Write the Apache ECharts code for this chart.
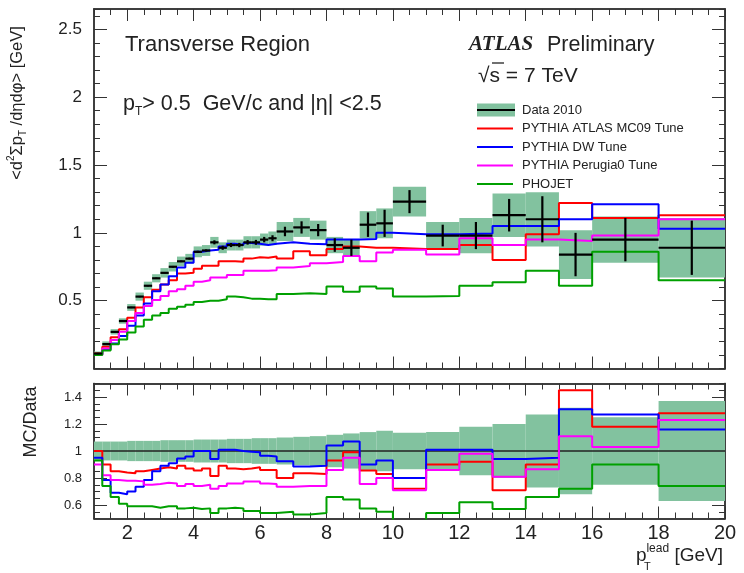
<!DOCTYPE html>
<html><head><meta charset="utf-8">
<script src="https://cdn.jsdelivr.net/npm/echarts@6/dist/echarts.min.js"></script>
<style>html,body{margin:0;padding:0;background:#fff}#c{width:744px;height:573px}</style>
</head><body><div id="c"></div>
<script>
// ---- data ----
const binEdges = [1,1.25,1.5,1.75,2,2.25,2.5,2.75,3,3.25,3.5,3.75,4,4.25,4.5,4.75,5,5.25,5.5,5.75,6,6.25,6.5,7,7.5,8,8.5,9,9.5,10,11,12,13,14,15,16,18,20];
const dataVal = [0.11,0.18,0.27,0.35,0.45,0.53,0.61,0.665,0.705,0.75,0.79,0.81,0.86,0.87,0.93,0.89,0.91,0.91,0.93,0.93,0.95,0.96,1.01,1.04,1.02,0.91,0.89,1.06,1.07,1.23,0.98,0.98,1.13,1.10,0.84,0.95,0.89];
const dataStat = [0.005,0.005,0.005,0.005,0.005,0.005,0.005,0.005,0.005,0.006,0.006,0.007,0.008,0.008,0.015,0.015,0.015,0.016,0.017,0.018,0.02,0.022,0.035,0.045,0.045,0.05,0.06,0.09,0.1,0.085,0.08,0.1,0.12,0.17,0.16,0.16,0.2];
const dataSys = [0.015,0.02,0.02,0.02,0.025,0.03,0.03,0.03,0.035,0.035,0.035,0.035,0.04,0.04,0.04,0.04,0.04,0.04,0.045,0.045,0.045,0.05,0.07,0.07,0.07,0.06,0.06,0.1,0.11,0.11,0.1,0.13,0.16,0.2,0.18,0.17,0.22];
const mc09Top = [0.11,0.16,0.23,0.29,0.375,0.45,0.525,0.58,0.62,0.65,0.70,0.705,0.735,0.757,0.758,0.79,0.79,0.787,0.81,0.82,0.817,0.825,0.81,0.865,0.835,0.88,0.90,0.89,0.89,0.88,0.88,0.91,0.80,0.99,1.22,1.11,1.13];
const dwTop = [0.105,0.14,0.185,0.24,0.315,0.39,0.48,0.57,0.62,0.68,0.745,0.78,0.86,0.87,0.875,0.90,0.92,0.91,0.925,0.92,0.91,0.92,0.93,0.92,0.915,0.95,0.95,0.955,1.0,0.99,0.99,0.995,1.05,1.05,1.10,1.21,1.03];
const perugiaTop = [0.10,0.148,0.21,0.27,0.35,0.41,0.46,0.505,0.535,0.57,0.585,0.61,0.64,0.65,0.67,0.67,0.69,0.69,0.72,0.72,0.72,0.725,0.745,0.755,0.775,0.785,0.83,0.79,0.855,0.875,0.84,0.96,0.91,0.95,0.94,0.98,1.10];
const phojetTop = [0.10,0.133,0.178,0.214,0.265,0.31,0.36,0.39,0.41,0.44,0.455,0.47,0.49,0.50,0.50,0.51,0.53,0.525,0.515,0.515,0.51,0.51,0.55,0.555,0.55,0.605,0.565,0.605,0.59,0.53,0.535,0.61,0.635,0.72,0.61,0.86,0.65];
const mc09Ratio = [1.0,0.90,0.85,0.84,0.835,0.85,0.86,0.87,0.88,0.87,0.89,0.87,0.855,0.87,0.815,0.89,0.87,0.865,0.87,0.88,0.86,0.86,0.80,0.835,0.83,0.93,0.99,0.855,0.83,0.72,0.90,0.92,0.71,0.90,1.45,1.18,1.28];
const dwRatio = [0.95,0.785,0.69,0.68,0.70,0.735,0.785,0.85,0.89,0.91,0.945,0.96,1.0,1.0,0.94,1.01,1.01,1.0,0.995,0.99,0.965,0.96,0.925,0.885,0.89,1.04,1.07,0.90,0.93,0.80,1.01,1.01,0.94,0.95,1.31,1.27,1.16];
const perugiaRatio = [0.90,0.82,0.785,0.78,0.78,0.775,0.75,0.755,0.765,0.76,0.74,0.755,0.74,0.75,0.72,0.74,0.76,0.76,0.775,0.775,0.76,0.755,0.735,0.74,0.74,0.86,0.95,0.755,0.80,0.71,0.86,0.98,0.81,0.865,1.11,1.03,1.23];
const phojetRatio = [0.93,0.74,0.66,0.61,0.59,0.59,0.59,0.58,0.59,0.59,0.575,0.58,0.57,0.575,0.54,0.575,0.58,0.575,0.555,0.555,0.54,0.54,0.55,0.53,0.54,0.66,0.64,0.575,0.55,0.43,0.54,0.62,0.57,0.66,0.72,0.90,0.74];
const ratioBand = [0.07,0.07,0.07,0.07,0.075,0.075,0.075,0.075,0.08,0.08,0.08,0.08,0.085,0.085,0.085,0.085,0.09,0.09,0.09,0.095,0.095,0.095,0.10,0.105,0.11,0.12,0.13,0.14,0.15,0.135,0.14,0.18,0.20,0.27,0.32,0.25,0.37];
const xTickLabels = [2,4,6,8,10,12,14,16,18,20];
const yTopLabels = [0.5,1,1.5,2,2.5];
const yRatioLabels = [0.6,0.8,1,1.2,1.4];
const legendNames = ['Data 2010','PYTHIA ATLAS MC09 Tune','PYTHIA DW Tune','PYTHIA Perugia0 Tune','PHOJET'];

// ---- styling ----
const COL = {mc09:'#ff0000', dw:'#0000ff', perugia:'#ff00ff', phojet:'#00a000', band:'#82c29f', frame:'#333'};
const FONT = 'Liberation Sans';
const chart = echarts.init(document.getElementById('c'));

function steps(vals){
  const d = vals.map((v,i)=>[binEdges[i], v]);
  d.push([binEdges[vals.length], vals[vals.length-1]]);
  return d;
}
function boxRows(vals, errs){ return vals.map((v,i)=>[binEdges[i], binEdges[i+1], v, errs[i]]); }

const xMin = binEdges[0], xMax = binEdges[binEdges.length-1];
function xAxesFor(g, labels){
  const base = {type:'value', gridIndex:g, min:xMin, max:xMax, splitLine:{show:false},
    axisLine:{show:true, onZero:false, lineStyle:{color:COL.frame, width:1.5}}};
  return [
    Object.assign({}, base, {position:'bottom', interval:0.5, axisTick:{inside:true, length:6, lineStyle:{color:COL.frame}}, axisLabel:{show:false}}),
    Object.assign({}, base, {position:'bottom', axisTick:{inside:true, length:12, customValues:xTickLabels, lineStyle:{color:COL.frame}},
      axisLabel:{show:labels, customValues:xTickLabels, fontFamily:FONT, fontSize:20, color:'#222', margin:5}}),
    Object.assign({}, base, {position:'top', interval:0.5, axisTick:{inside:true, length:6, lineStyle:{color:COL.frame}}, axisLabel:{show:false}}),
    Object.assign({}, base, {position:'top', axisTick:{inside:true, length:12, customValues:xTickLabels, lineStyle:{color:COL.frame}}, axisLabel:{show:false}})
  ];
}
function yAxesFor(g, min, max, minor, majors, fs, fmt){
  const base = {type:'value', gridIndex:g, min:min, max:max, splitLine:{show:false},
    axisLine:{show:true, onZero:false, lineStyle:{color:COL.frame, width:1.5}}};
  return [
    Object.assign({}, base, {position:'left', interval:minor, axisTick:{inside:true, length:6, lineStyle:{color:COL.frame}}, axisLabel:{show:false}}),
    Object.assign({}, base, {position:'left', axisTick:{inside:true, length:13, customValues:majors, lineStyle:{color:COL.frame}},
      axisLabel:{show:true, customValues:majors, fontFamily:FONT, fontSize:fs, color:'#222', margin:12, formatter:fmt}}),
    Object.assign({}, base, {position:'right', interval:minor, axisTick:{inside:true, length:6, lineStyle:{color:COL.frame}}, axisLabel:{show:false}}),
    Object.assign({}, base, {position:'right', axisTick:{inside:true, length:13, customValues:majors, lineStyle:{color:COL.frame}}, axisLabel:{show:false}})
  ];
}

function boxRender(fill){
  return function(params, api){
    const lo=api.value(0), hi=api.value(1), v=api.value(2), e=api.value(3);
    const p0=api.coord([lo, v+e]), p1=api.coord([hi, v-e]);
    const r = echarts.graphic.clipRectByRect({x:p0[0], y:p0[1], width:p1[0]-p0[0], height:p1[1]-p0[1]},
      {x:params.coordSys.x, y:params.coordSys.y, width:params.coordSys.width, height:params.coordSys.height});
    if(!r) return null;
    return {type:'rect', shape:r, style:{fill:fill}};
  };
}
function markerRender(params, api){
  const lo=api.value(0), hi=api.value(1), v=api.value(2), e=api.value(3);
  const a=api.coord([lo,v]), b=api.coord([hi,v]);
  const c=api.coord([(lo+hi)/2, v+e]), d=api.coord([(lo+hi)/2, v-e]);
  return {type:'group', children:[
    {type:'line', shape:{x1:a[0],y1:a[1],x2:b[0],y2:b[1]}, style:{stroke:'#000', lineWidth:2.2}},
    {type:'line', shape:{x1:c[0],y1:c[1],x2:d[0],y2:d[1]}, style:{stroke:'#000', lineWidth:2.2}}
  ]};
}
function stepSeries(name, vals, color, xi, yi){
  return {type:'line', name:name, step:'end', data:steps(vals), xAxisIndex:xi, yAxisIndex:yi,
    showSymbol:false, symbol:'none', clip:true, z:3, lineStyle:{color:color, width:2}, itemStyle:{color:color}, silent:true, animation:false};
}

const bandRel = ratioBand.map((b,i)=>[binEdges[i], binEdges[i+1], 1, b]);

const option = {
  animation:false,
  backgroundColor:'#fff',
  grid:[
    {left:94, top:9, width:631, height:359.5},
    {left:94, top:383.5, width:631, height:135}
  ],
  xAxis: xAxesFor(0,false).concat(xAxesFor(1,true)),
  yAxis: yAxesFor(0, 0, 2.65, 0.1, yTopLabels, 17, v=>String(v))
    .concat(yAxesFor(1, 0.5, 1.5, 0.05, yRatioLabels, 13, v=>(v===1?'1':v.toFixed(1)))),
  series:[
    {type:'custom', name:'sys', xAxisIndex:0, yAxisIndex:0, z:1, silent:true,
      data:boxRows(dataVal, dataSys), encode:{x:[0,1], y:[2]}, renderItem:boxRender(COL.band)},
    stepSeries(legendNames[1], mc09Top, COL.mc09, 0, 0),
    stepSeries(legendNames[2], dwTop, COL.dw, 0, 0),
    stepSeries(legendNames[3], perugiaTop, COL.perugia, 0, 0),
    stepSeries(legendNames[4], phojetTop, COL.phojet, 0, 0),
    {type:'custom', name:legendNames[0], xAxisIndex:0, yAxisIndex:0, z:5, silent:true,
      data:boxRows(dataVal, dataStat), encode:{x:[0,1], y:[2]}, renderItem:markerRender},
    // ratio panel
    {type:'custom', name:'band', xAxisIndex:4, yAxisIndex:4, z:1, silent:true,
      data:bandRel, encode:{x:[0,1], y:[2]}, renderItem:boxRender(COL.band)},
    {type:'line', name:'unity', xAxisIndex:4, yAxisIndex:4, z:2, showSymbol:false, symbol:'none', silent:true,
      data:[[xMin,1],[xMax,1]], lineStyle:{color:'#222', width:1.5}},
    stepSeries('r1', mc09Ratio, COL.mc09, 4, 4),
    stepSeries('r2', dwRatio, COL.dw, 4, 4),
    stepSeries('r3', perugiaRatio, COL.perugia, 4, 4),
    stepSeries('r4', phojetRatio, COL.phojet, 4, 4)
  ],
  graphic:[
    {type:'text', x:17, y:103, rotation:Math.PI/2, style:{text:'<d{sup|2}Σp{sub|T} /dηdφ> [GeV]', fontFamily:FONT, fontSize:16.5, fill:'#222',
      align:'center', verticalAlign:'middle', lineHeight:22,
      rich:{sup:{fontSize:10, verticalAlign:'top', fontFamily:FONT, fill:'#222'}, sub:{fontSize:10, verticalAlign:'bottom', fontFamily:FONT, fill:'#222'}}}},
    {type:'text', x:31, y:422, rotation:Math.PI/2, style:{text:'MC/Data', fontFamily:FONT, fontSize:18, fill:'#222', align:'center', verticalAlign:'middle'}},
    {type:'text', x:723, y:556, style:{text:'p{sup|lead} [GeV]', fontFamily:FONT, fontSize:19, fill:'#222', align:'right', verticalAlign:'middle', lineHeight:26,
      rich:{sup:{fontSize:12, verticalAlign:'top', fontFamily:FONT, fill:'#222'}}}},
    {type:'text', x:644, y:567, style:{text:'T', fontFamily:FONT, fontSize:11, fill:'#222', align:'left', verticalAlign:'middle'}},
    {type:'text', x:125, y:45, style:{text:'Transverse Region', fontFamily:FONT, fontSize:22, fill:'#222', align:'left', verticalAlign:'middle'}},
    {type:'text', x:469, y:45, style:{text:'ATLAS', fontFamily:'Liberation Serif', fontWeight:'bold', fontStyle:'italic', fontSize:21, fill:'#222', align:'left', verticalAlign:'middle'}},
    {type:'text', x:547, y:45, style:{text:'Preliminary', fontFamily:FONT, fontSize:21.5, fill:'#222', align:'left', verticalAlign:'middle'}},
    {type:'text', x:478, y:76, style:{text:'√s = 7 TeV', fontFamily:FONT, fontSize:21, fill:'#222', align:'left', verticalAlign:'middle'}},
    {type:'line', shape:{x1:492, y1:63, x2:504, y2:63}, style:{stroke:'#222', lineWidth:1.3}},
    {type:'text', x:123, y:104, style:{text:'p{sub|T}> 0.5  GeV/c and |η| <2.5', fontFamily:FONT, fontSize:21.5, fill:'#222', align:'left', verticalAlign:'middle', lineHeight:28,
      rich:{sub:{fontSize:12, verticalAlign:'bottom', fontFamily:FONT, fill:'#222'}}}},
    // legend
    {type:'rect', shape:{x:477, y:103.5, width:38, height:13}, style:{fill:COL.band}},
    {type:'line', shape:{x1:477, y1:110, x2:515, y2:110}, style:{stroke:'#000', lineWidth:2}},
    {type:'line', shape:{x1:477, y1:128.5, x2:513, y2:128.5}, style:{stroke:COL.mc09, lineWidth:2}},
    {type:'line', shape:{x1:477, y1:147, x2:513, y2:147}, style:{stroke:COL.dw, lineWidth:2}},
    {type:'line', shape:{x1:477, y1:165.5, x2:513, y2:165.5}, style:{stroke:COL.perugia, lineWidth:2}},
    {type:'line', shape:{x1:477, y1:184, x2:513, y2:184}, style:{stroke:COL.phojet, lineWidth:2}},
    {type:'text', x:522, y:110, style:{text:legendNames[0], fontFamily:FONT, fontSize:13, fill:'#222', verticalAlign:'middle'}},
    {type:'text', x:522, y:128.5, style:{text:legendNames[1], fontFamily:FONT, fontSize:13, fill:'#222', verticalAlign:'middle'}},
    {type:'text', x:522, y:147, style:{text:legendNames[2], fontFamily:FONT, fontSize:13, fill:'#222', verticalAlign:'middle'}},
    {type:'text', x:522, y:165.5, style:{text:legendNames[3], fontFamily:FONT, fontSize:13, fill:'#222', verticalAlign:'middle'}},
    {type:'text', x:522, y:184, style:{text:legendNames[4], fontFamily:FONT, fontSize:13, fill:'#222', verticalAlign:'middle'}}
  ]
};
chart.setOption(option);
</script></body></html>
